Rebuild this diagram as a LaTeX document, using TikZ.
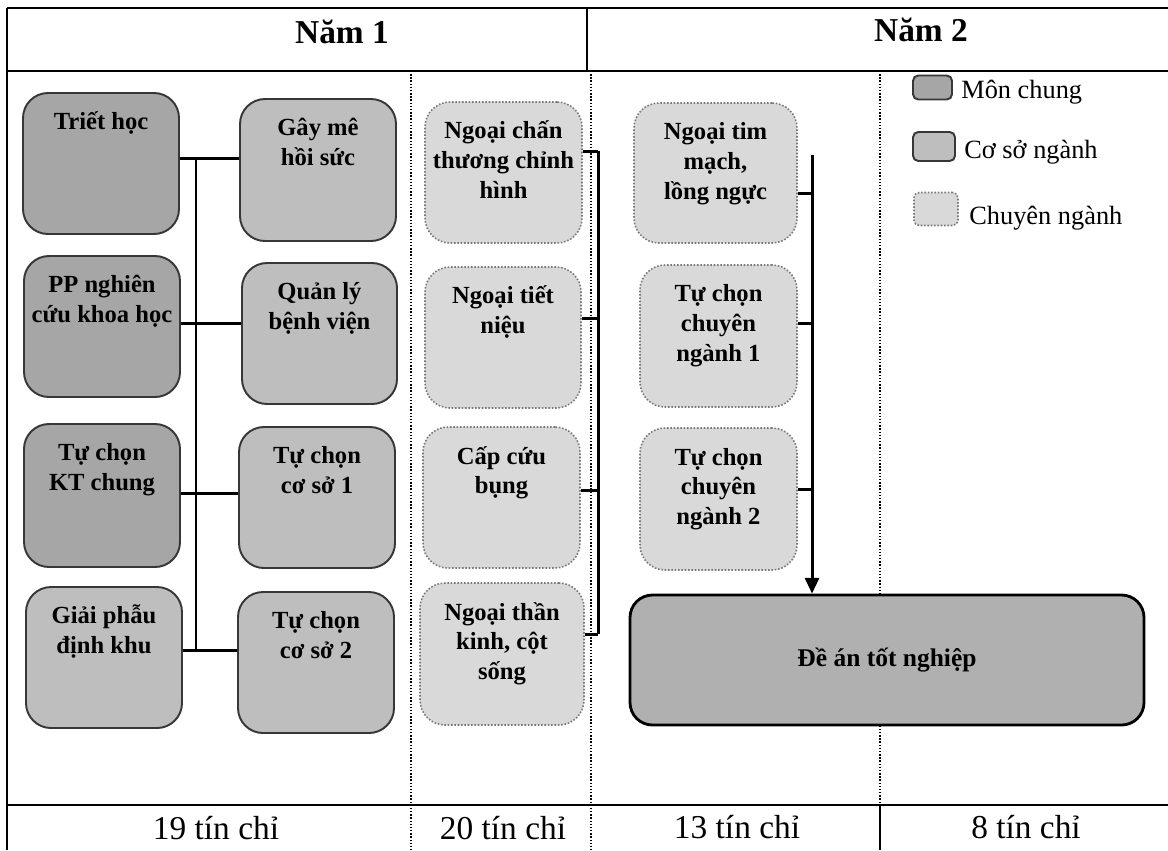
\documentclass[tikz,border=0pt]{standalone}
\usepackage{fontspec}
\setmainfont{Liberation Serif}
\usetikzlibrary{arrows.meta}
\definecolor{mcfill}{RGB}{166,166,166}
\definecolor{csfill}{RGB}{190,190,190}
\definecolor{cnfill}{RGB}{217,217,217}
\definecolor{dafill}{RGB}{176,176,176}
\definecolor{bord}{RGB}{55,55,55}
\definecolor{cnbord}{RGB}{120,120,120}
\tikzset{
  mc/.style={draw=bord, line width=1.1pt, fill=mcfill, rounded corners=0.5cm, inner sep=0pt},
  cs/.style={draw=bord, line width=1.1pt, fill=csfill, rounded corners=0.5cm, inner sep=0pt},
  cn/.style={draw=cnbord, densely dotted, line width=0.9pt, fill=cnfill, rounded corners=0.5cm, inner sep=0pt},
  da/.style={draw=black, line width=1.6pt, fill=dafill, rounded corners=0.45cm, inner sep=0pt,
     font=\bfseries\fontsize{14.5pt}{17pt}\selectfont},
  btext/.style={inner sep=0pt, font=\bfseries\fontsize{14pt}{17pt}\selectfont},
  conn/.style={line width=1.7pt, black},
  tline/.style={line width=1.1pt, black},
  dline/.style={line width=0.8pt, black, densely dotted},
  head/.style={font=\bfseries\fontsize{19pt}{22pt}\selectfont},
  foot/.style={font=\fontsize{19pt}{22pt}\selectfont},
  legtext/.style={anchor=west, inner sep=0pt, font=\fontsize{15pt}{18pt}\selectfont}
}
\newcommand\mkcourse[7]{%
  \node[#2, minimum width={(#5-#3)*0.02cm}, minimum height={(#6-#4)*0.02cm}] (#1) at ({(#3+#5)/2},{(#4+#6)/2}) {};
  \node[btext, anchor=base] (#1-t) at ([yshift=-21.5pt]#1.north) {\parbox[t]{3.3cm}{\centering #7}};
}
\begin{document}
\begin{tikzpicture}[x=0.02cm, y=-0.02cm]
\useasboundingbox (0,0) rectangle (1168,850);
\fill[white] (0,0) rectangle (1168,850);

% table
\draw[tline] (7,8) -- (1168,8);
\draw[tline] (7,71) -- (1168,71);
\draw[tline] (7,805) -- (1168,805);
\draw[tline] (7,8) -- (7,850);
\draw[tline] (587,8) -- (587,71);
\draw[dline] (411,71) -- (411,850);
\draw[dline] (591,71) -- (591,850);
\draw[dline] (880,71) -- (880,805);
\draw[tline] (880,805) -- (880,850);

\node[head] (y1) at (342,32) {Năm 1};
\node[head] (y2) at (921,30) {Năm 2};

\node[foot] (f1) at (216,828) {19 tín chỉ};
\node[foot] (f2) at (503,828) {20 tín chỉ};
\node[foot] (f3) at (737,827) {13 tín chỉ};
\node[foot] (f4) at (1026,827) {8 tín chỉ};

% column 1 (general)
\mkcourse{tri}{mc}{23}{93}{179}{234}{Triết học}
\mkcourse{pp}{mc}{24}{256}{180}{397}{PP nghiên\\cứu khoa học}
\mkcourse{ktc}{mc}{24}{424}{180}{567}{Tự chọn\\KT chung}
\mkcourse{gp}{cs}{26}{587}{182}{728}{Giải phẫu\\định khu}

% column 2 (foundation)
\mkcourse{gm}{cs}{240}{99}{396}{241}{Gây mê\\hồi sức}
\mkcourse{ql}{cs}{242}{263}{397}{404}{Quản lý\\bệnh viện}
\mkcourse{cs1}{cs}{239}{427}{395}{568}{Tự chọn\\cơ sở 1}
\mkcourse{cs2}{cs}{238}{592}{394}{733}{Tự chọn\\cơ sở 2}

% column 3 (specialised)
\mkcourse{nct}{cn}{425}{102}{582}{243}{Ngoại chấn\\thương chỉnh\\hình}
\mkcourse{ntn}{cn}{425}{267}{581}{408}{Ngoại tiết\\niệu}
\mkcourse{ccb}{cn}{423}{427}{580}{568}{Cấp cứu\\bụng}
\mkcourse{ntk}{cn}{420}{583}{584}{725}{Ngoại thần\\kinh, cột\\sống}

% column 4 (specialised)
\mkcourse{ntm}{cn}{634}{103}{797}{243}{Ngoại tim\\mạch,\\lồng ngực}
\mkcourse{cn1}{cn}{640}{265}{797}{407}{Tự chọn\\chuyên\\ngành 1}
\mkcourse{cn2}{cn}{640}{428}{797}{570}{Tự chọn\\chuyên\\ngành 2}

% thesis
\node[da, minimum width={514*0.02cm}, minimum height={130*0.02cm}] (da) at (887,660) {Đề án tốt nghiệp};

% connectors column 1-2
\coordinate (b1t) at (196,158);
\coordinate (b1b) at (196,650);
\draw[conn] (b1t) -- (b1b);
\draw[conn] (tri.east |- 0,158) -- (gm.west |- 0,158);
\draw[conn] (pp.east |- 0,323) -- (ql.west |- 0,323);
\draw[conn] (ktc.east |- 0,493) -- (cs1.west |- 0,493);
\draw[conn] (gp.east |- 0,650) -- (cs2.west |- 0,650);

% connectors column 3
\coordinate (b3t) at (598,151);
\coordinate (b3b) at (598,634);
\draw[conn] (b3t) -- (b3b);
\draw[conn] (nct.east |- 0,151) -- (b3t);
\draw[conn] (ntn.east |- 0,318) -- (598,318);
\draw[conn] (ccb.east |- 0,490) -- (598,490);
\draw[conn] (ntk.east |- 0,634) -- (b3b);

% connectors column 4
\coordinate (b4t) at (812,155);
\draw[conn] (ntm.east |- 0,193) -- (812,193);
\draw[conn] (cn1.east |- 0,323) -- (812,323);
\draw[conn] (cn2.east |- 0,489) -- (812,489);
\draw[conn, -{Triangle[length=9pt, width=8pt]}] (b4t) -- (da.north -| b4t);

% legend
\node[mc, rounded corners=3pt, minimum width={39*0.02cm}, minimum height={24*0.02cm}] (lg1) at (932.5,87.5) {};
\node[cs, rounded corners=3pt, minimum width={42*0.02cm}, minimum height={29*0.02cm}] (lg2) at (934,146.5) {};
\node[cn, rounded corners=3pt, minimum width={44*0.02cm}, minimum height={33*0.02cm}] (lg3) at (936,209) {};
\node[legtext] (lt1) at (961,92) {Môn chung};
\node[legtext] (lt2) at (964,152) {Cơ sở ngành};
\node[legtext] (lt3) at (969,218) {Chuyên ngành};
\end{tikzpicture}
\end{document}
